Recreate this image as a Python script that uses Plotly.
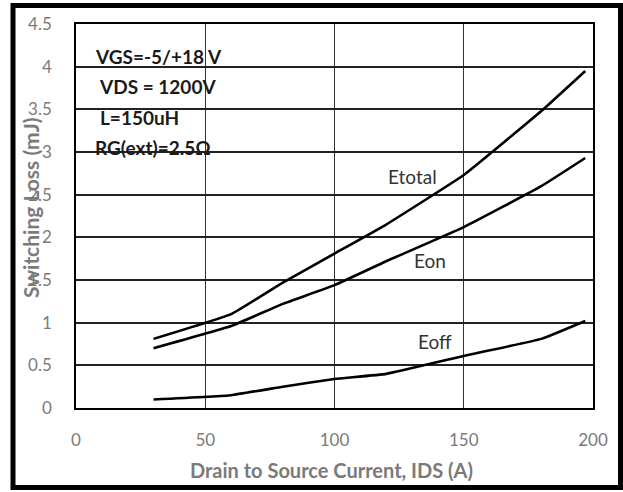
import plotly.graph_objects as go

ids = [30, 60, 80, 100, 120, 150, 180, 197]
etotal = [0.81, 1.10, 1.47, 1.81, 2.15, 2.73, 3.48, 3.95]
eon = [0.70, 0.96, 1.22, 1.44, 1.72, 2.12, 2.60, 2.93]
eoff = [0.10, 0.15, 0.25, 0.34, 0.40, 0.61, 0.81, 1.02]

x_ticks = [0, 50, 100, 150, 200]
y_ticks = [0, 0.5, 1, 1.5, 2, 2.5, 3, 3.5, 4, 4.5]
y_labels = ["0", "0.5", "1", "1.5", "2", "2.5", "3", "3.5", "4", "4.5"]

conditions = ["VGS=-5/+18 V", "VDS = 1200V", "L=150uH", "RG(ext)=2.5Ω"]
cond_y = [4.125, 3.77, 3.40, 3.05]
cond_x = [6.6, 8.1, 8.5, 6.6]

curve_labels = [("Etotal", 130, 2.71), ("Eon", 137, 1.73), ("Eoff", 139, 0.78)]

FONT = "Lato"
GRAY = "#7a7a7a"

fig = go.Figure()
for name, ys in [("Etotal", etotal), ("Eon", eon), ("Eoff", eoff)]:
    fig.add_trace(go.Scatter(x=ids, y=ys, mode="lines", name=name,
                             line=dict(color="black", width=2.6, shape="spline", smoothing=0.3),
                             showlegend=False))

ann = []
for t, x, y in curve_labels:
    ann.append(dict(x=x, y=y, text=t, showarrow=False, xref="x", yref="y",
                    font=dict(family=FONT, size=19, color="#333333")))
for t, x, y in zip(conditions, cond_x, cond_y):
    ann.append(dict(x=x, y=y, text="<b>" + t + "</b>", showarrow=False, xref="x", yref="y",
                    xanchor="left", font=dict(family=FONT, size=19, color="#1a1a1a")))

W, H = 623, 492
L, R, T, B = 76, 30, 24, 84
pw, ph = W - L - R, H - T - B

def px(x):
    return (x - L) / pw

def py(y):
    return (H - B - y) / ph

ann.append(dict(x=px(331), y=py(470), xref="paper", yref="paper", showarrow=False,
                xanchor="center", yanchor="middle",
                text="<b>Drain to Source Current, IDS (A)</b>",
                font=dict(family=FONT, size=20, color=GRAY)))
ann.append(dict(x=px(30), y=py(208), xref="paper", yref="paper", showarrow=False,
                xanchor="center", yanchor="middle",
                text="<b>Switching Loss (mJ)</b>", textangle=-90,
                font=dict(family=FONT, size=21, color=GRAY)))

fig.update_layout(
    width=W, height=H,
    margin=dict(l=L, r=R, t=T, b=B),
    paper_bgcolor="white", plot_bgcolor="white",
    annotations=ann,
    shapes=[dict(type="rect", xref="paper", yref="paper",
                 x0=px(13), x1=px(620.5), y0=py(487.5), y1=py(5.5),
                 line=dict(color="black", width=5), layer="below")],
    xaxis=dict(range=[0, 200], tickvals=x_ticks, showgrid=True, gridcolor="#333333", gridwidth=1.3,
               showline=True, linecolor="black", linewidth=1.5, mirror=True, zeroline=False,
               ticks="", ticklabelstandoff=16,
               tickfont=dict(family=FONT, size=17, color=GRAY)),
    yaxis=dict(range=[0, 4.5], tickvals=y_ticks, ticktext=y_labels, showgrid=True,
               gridcolor="#222222", gridwidth=1.5,
               showline=True, linecolor="black", linewidth=1.5, mirror=True, zeroline=False,
               ticks="", ticklabelstandoff=19,
               tickfont=dict(family=FONT, size=17, color=GRAY)),
)

fig.write_html("out.html")
